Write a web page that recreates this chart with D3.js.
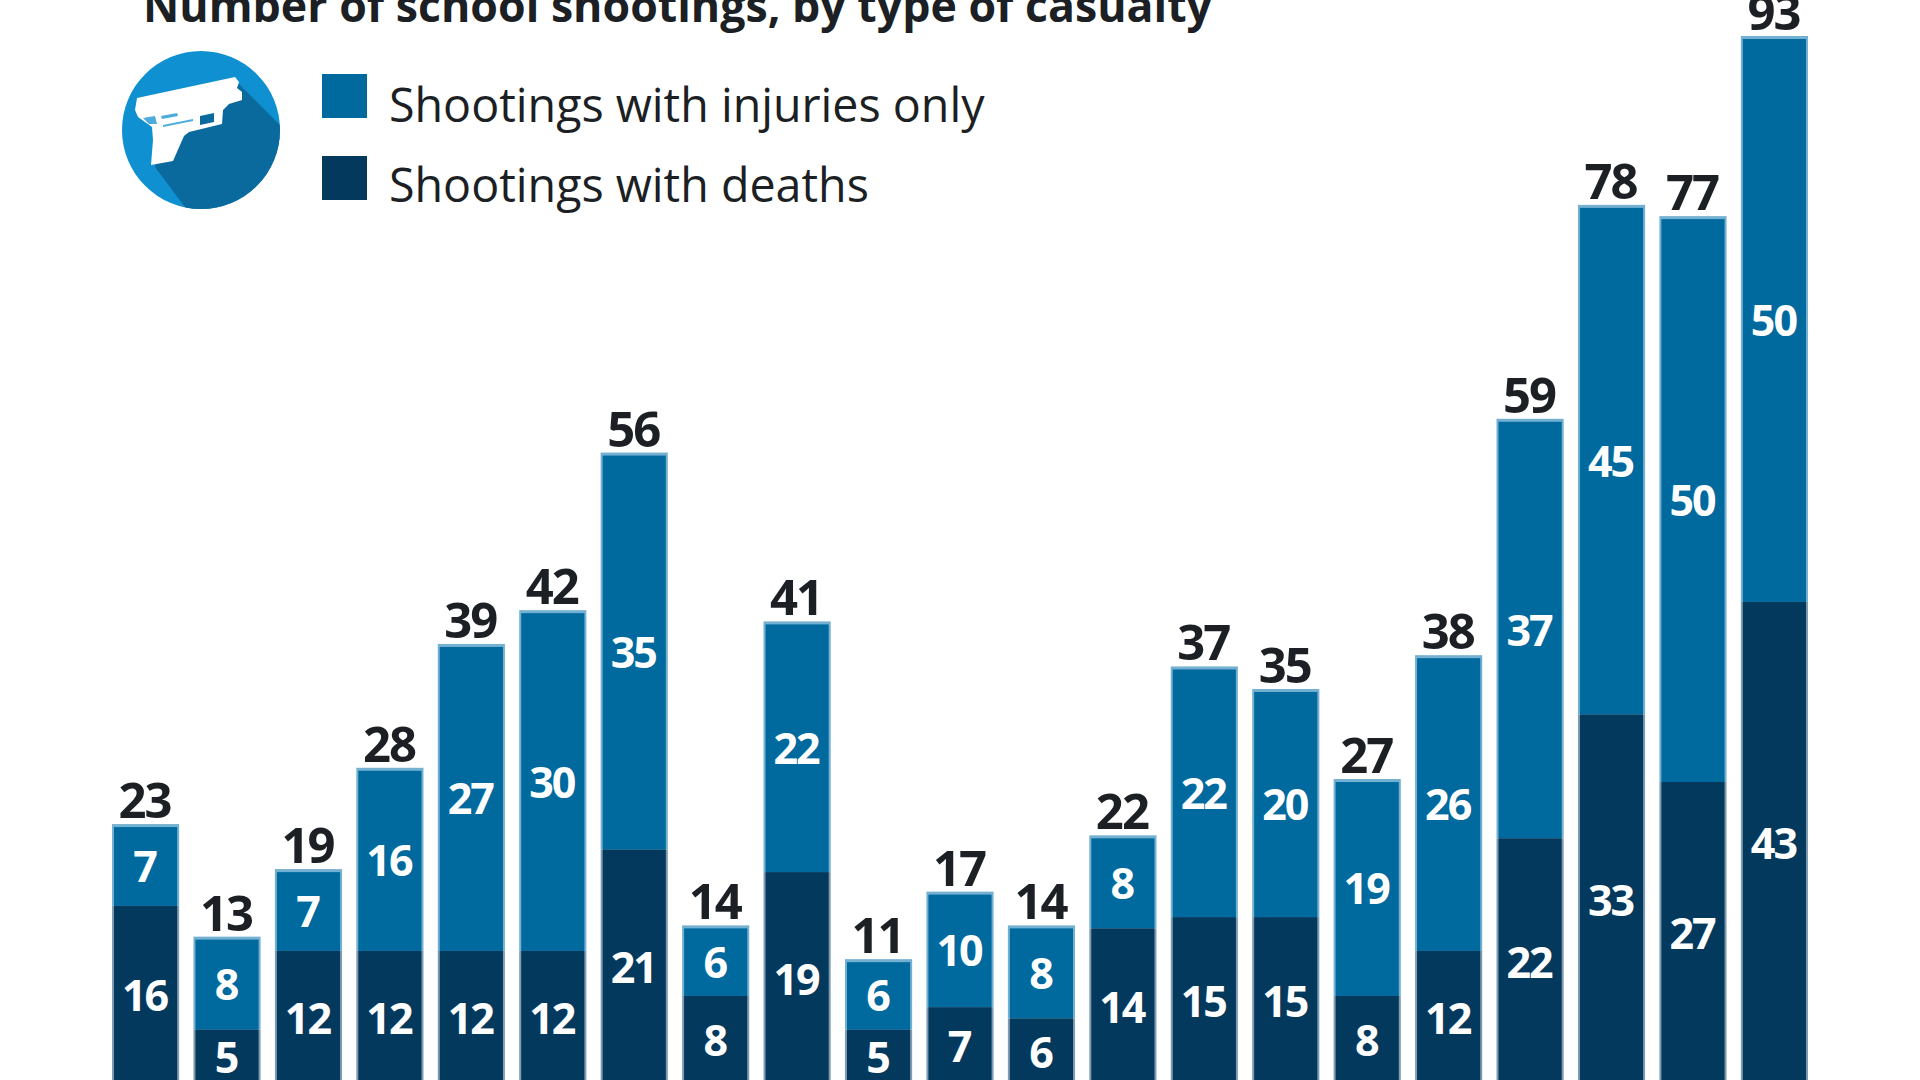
<!DOCTYPE html>
<html>
<head>
<meta charset="utf-8">
<script src="https://cdn.jsdelivr.net/npm/d3@7"></script>
<style>
html,body{margin:0;padding:0;background:#fff;overflow:hidden}
svg{display:block}
text{font-family:"Open Sans","Noto Sans",sans-serif}
</style>
</head>
<body>
<div id="chart"></div>
<script>
const periods = d3.range(21);
const deaths   = [16,5,12,12,12,12,21,8,19,5,7,6,14,15,15,8,12,22,33,27,43];
const injuries = [7,8,7,16,27,30,35,6,22,6,10,8,8,22,20,19,26,37,45,50,50];
const totals   = [23,13,19,28,39,42,56,14,41,11,17,14,22,37,35,27,38,59,78,77,93];
const seriesNames = ["Shootings with injuries only","Shootings with deaths"];
const chartTitle = "Number of school shootings, by type of casualty";
const colors = {injuries:"#006a9e",injuriesEdge:"#74b0d1",deaths:"#04395e",deathsEdge:"#7f9bb0",ink:"#1c1f24"};

const W = 1920, H = 1080;
const svg = d3.select("#chart").append("svg").attr("width",W).attr("height",H);

const x = d3.scaleBand().domain(periods).range([113,1807]).paddingInner(0.2);
const y = d3.scaleLinear().domain([0,93]).range([1086,39]);
const labelX = i => x(i) + x.bandwidth()/2 - 1;

const bars = svg.append("g").selectAll("g").data(periods).join("g");

// Pale rim behind each stack
bars.append("rect")
  .attr("x",i=>x(i)-1).attr("width",x.bandwidth()+2)
  .attr("y",i=>y(totals[i])-3).attr("height",i=>y(deaths[i])-y(totals[i])+3)
  .attr("fill",colors.injuriesEdge);
bars.append("rect")
  .attr("x",i=>x(i)-1).attr("width",x.bandwidth()+2)
  .attr("y",i=>y(deaths[i])).attr("height",i=>y(0)-y(deaths[i]))
  .attr("fill",colors.deathsEdge);

// Upper segment: shootings with injuries only
bars.append("rect")
  .attr("x",i=>x(i)+1).attr("width",x.bandwidth()-2)
  .attr("y",i=>y(totals[i])).attr("height",i=>y(deaths[i])-y(totals[i]))
  .attr("fill",colors.injuries);
// Lower segment: shootings with deaths
bars.append("rect")
  .attr("x",i=>x(i)+1).attr("width",x.bandwidth()-2)
  .attr("y",i=>y(deaths[i])).attr("height",i=>y(0)-y(deaths[i]))
  .attr("fill",colors.deaths);

const inner = {size:43,weight:700,fill:"#fff"};
bars.append("text")
  .attr("x",labelX)
  .attr("y",i=>(y(deaths[i])+y(totals[i]))/2).attr("dy","0.36em")
  .attr("text-anchor","middle").attr("font-size",inner.size).attr("font-weight",inner.weight)
  .attr("letter-spacing",-2).attr("fill",inner.fill)
  .text(i=>injuries[i]);
bars.append("text")
  .attr("x",labelX)
  .attr("y",i=>(y(0)+y(deaths[i]))/2).attr("dy","0.36em")
  .attr("text-anchor","middle").attr("font-size",inner.size).attr("font-weight",inner.weight)
  .attr("letter-spacing",-2).attr("fill",inner.fill)
  .text(i=>deaths[i]);
bars.append("text")
  .attr("x",labelX)
  .attr("y",i=>y(totals[i])-9)
  .attr("text-anchor","middle").attr("font-size",49).attr("font-weight",700)
  .attr("letter-spacing",-2).attr("fill",colors.ink)
  .text(i=>totals[i]);

// Title
svg.append("text").attr("x",143).attr("y",22)
  .attr("font-size",44.7).attr("font-weight",700).attr("fill",colors.ink)
  .text(chartTitle);

// Legend
const legendRows = [
  {name:seriesNames[0],color:colors.injuries,top:74,base:122},
  {name:seriesNames[1],color:colors.deaths,top:156,base:202}
];
const legend = svg.append("g").selectAll("g").data(legendRows).join("g");
legend.append("rect").attr("x",322).attr("width",45).attr("height",44)
  .attr("y",d=>d.top).attr("fill",d=>d.color);
legend.append("text").attr("x",389).attr("y",d=>d.base)
  .attr("font-size",46.6).attr("fill",colors.ink).text(d=>d.name);

// Pistol badge with its long cast shadow
const badgeBlue = "#0f90d0", badgeShade = "#0a6a9d";
const badge = svg.append("g").attr("transform","translate(201,130)");
badge.append("clipPath").attr("id","badge-clip").append("circle").attr("r",79);
badge.append("circle").attr("r",79).attr("fill",badgeBlue);
badge.append("path").attr("clip-path","url(#badge-clip)")
  .attr("d","M38,-46 L120,36 L120,120 L16,120 L-46,37 L-30,-5 L0,-15 Z").attr("fill",badgeShade);
badge.append("path").attr("fill","#fff")
  .attr("d","M-64,-32 L34,-53 L38,-48 L36,-42 L41,-38 L41,-30 L28,-26 L22,-20 L21,-6 L-12,2 L-17,6 L-28,31 L-50,35 L-48,10 L-49,-3 L-63,-13 L-66,-20 Z");
// Trigger opening and the moulded detail on the frame
badge.append("path").attr("fill",badgeShade)
  .attr("d","M-1,-14 L13,-17 L13,-8 L-1,-5 Z");
badge.append("path").attr("fill",badgeBlue).attr("opacity",0.75)
  .attr("d","M-40,-14 L-24,-17 L-23,-14 L-39,-11 Z M-38,-5 L-8,-11 L-8,-9 L-38,-3 Z M-58,-12 L-46,-14 L-44,-6 L-52,-6 Z");
</script>
</body>
</html>
